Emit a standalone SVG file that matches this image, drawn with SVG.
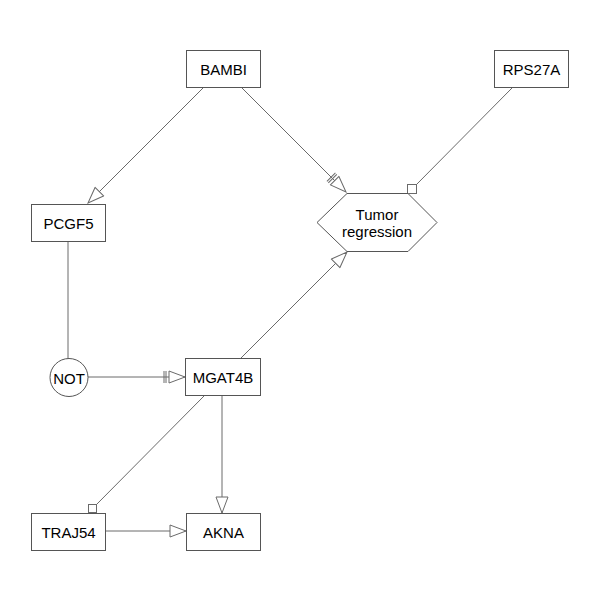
<svg xmlns="http://www.w3.org/2000/svg" width="600" height="600" viewBox="0 0 600 600">
  <style>
    .node { fill: #ffffff; stroke: #555555; stroke-width: 1; }
    .label { font-family: "Liberation Sans", Arial, sans-serif; font-size: 15px; fill: #000000; text-anchor: middle; dominant-baseline: central; }
    .edge { fill: none; stroke: #6a6a6a; stroke-width: 1; }
    .endsq { fill: #ffffff; stroke: #6a6a6a; stroke-width: 1; }
  </style>
  <defs>
    <!-- open triangle, tip at the path end -->
    <marker id="arrow" viewBox="0 0 18 14" refX="17" refY="7" markerWidth="18" markerHeight="14" markerUnits="userSpaceOnUse" orient="auto">
      <path d="M1,1 L17,7 L1,13 Z" fill="#ffffff" stroke="#6a6a6a" stroke-width="1"/>
    </marker>
    <!-- bar followed by open triangle -->
    <marker id="barArrow" viewBox="0 0 24 14" refX="23" refY="7" markerWidth="24" markerHeight="14" markerUnits="userSpaceOnUse" orient="auto">
      <path d="M2,1 L2,13" stroke="#6a6a6a" stroke-width="1"/>
      <path d="M4,1 L4,13" stroke="#6a6a6a" stroke-width="1"/>
      <path d="M7,1 L23,7 L7,13 Z" fill="#ffffff" stroke="#6a6a6a" stroke-width="1"/>
    </marker>
  </defs>

  <g id="connectors">
    <line class="edge" x1="204" y1="87" x2="88" y2="203" marker-end="url(#arrow)"/>
    <line class="edge" x1="241" y1="87" x2="346" y2="192" marker-end="url(#barArrow)"/>
    <line class="edge" x1="513" y1="87" x2="416" y2="185"/>
    <rect class="endsq" x="407.5" y="184.5" width="9" height="9"/>
    <line class="edge" x1="241" y1="358" x2="347" y2="252" marker-end="url(#arrow)"/>
    <line class="edge" x1="68" y1="242" x2="68" y2="359"/>
    <line class="edge" x1="88" y1="377" x2="185" y2="377" marker-end="url(#barArrow)"/>
    <line class="edge" x1="205" y1="395" x2="96.5" y2="504.5"/>
    <rect class="endsq" x="88.5" y="504.5" width="8" height="8"/>
    <line class="edge" x1="222" y1="395" x2="222" y2="513" marker-end="url(#arrow)"/>
    <line class="edge" x1="105" y1="531" x2="186" y2="531" marker-end="url(#arrow)"/>
  </g>

  <g id="BAMBI">
    <rect class="node" x="186.5" y="50.5" width="74" height="37"/>
    <text class="label" x="223.5" y="69">BAMBI</text>
  </g>
  <g id="RPS27A">
    <rect class="node" x="494.5" y="50.5" width="74" height="37"/>
    <text class="label" x="531.5" y="69">RPS27A</text>
  </g>
  <g id="PCGF5">
    <rect class="node" x="31.5" y="204.5" width="74" height="37"/>
    <text class="label" x="68.5" y="223">PCGF5</text>
  </g>
  <g id="TumorRegression">
    <polygon class="node" points="347,193.5 408,193.5 437,222.5 408,251.5 347,251.5 317,222.5"/>
    <text class="label" x="377" y="214">Tumor</text>
    <text class="label" x="377" y="231">regression</text>
  </g>
  <g id="NOT">
    <circle class="node" cx="69" cy="377.5" r="19"/>
    <text class="label" x="69" y="378">NOT</text>
  </g>
  <g id="MGAT4B">
    <rect class="node" x="185.5" y="358.5" width="75" height="37"/>
    <text class="label" x="223" y="377">MGAT4B</text>
  </g>
  <g id="TRAJ54">
    <rect class="node" x="31.5" y="513.5" width="74" height="37"/>
    <text class="label" x="68.5" y="532">TRAJ54</text>
  </g>
  <g id="AKNA">
    <rect class="node" x="186.5" y="513.5" width="74" height="37"/>
    <text class="label" x="223.5" y="532">AKNA</text>
  </g>
</svg>
